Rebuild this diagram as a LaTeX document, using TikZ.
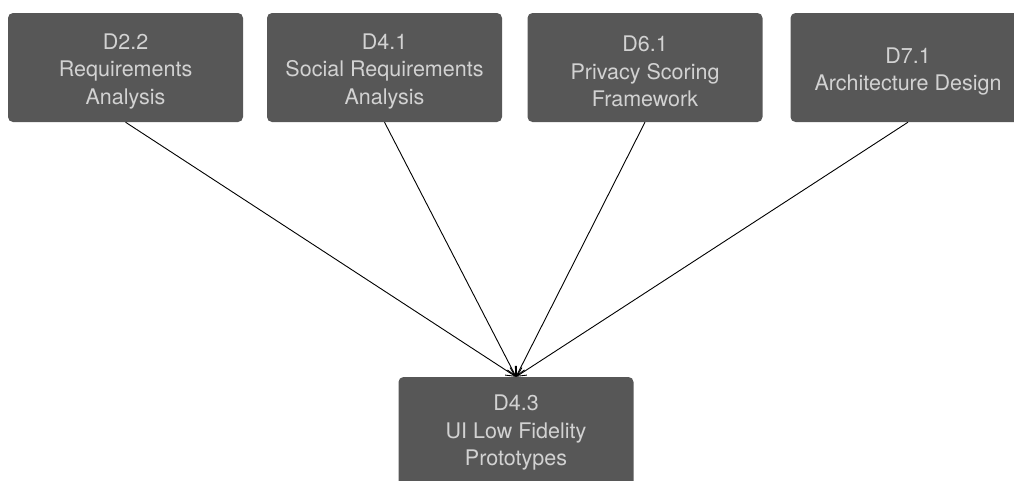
\documentclass[tikz,border=0pt]{standalone}
\usepackage{fontspec}
\setmainfont{TeX Gyre Heros}
\usetikzlibrary{arrows.meta}
\definecolor{boxgray}{HTML}{575757}
\definecolor{boxtext}{HTML}{D2D2D2}
\begin{document}
\begin{tikzpicture}[x=1pt,y=-1pt,
  deliv/.style={rectangle, rounded corners=5pt, fill=boxgray,
    minimum width=235pt, minimum height=109pt, inner sep=0pt},
  dtext/.style={text=boxtext, inner sep=0pt, align=center,
    font=\fontsize{21.5}{27.3}\selectfont},
  feed/.style={line width=0.9pt, -{Straight Barb[length=9pt,width=9pt,line width=0.9pt]}}]
  \clip (0,0) rectangle (1014,480);
  \useasboundingbox (0,0) rectangle (1014,480);

  % source deliverables
  \node[deliv] (d22) at (125.5,67.5) {};
  \node[deliv] (d41) at (384.5,67.5) {};
  \node[deliv] (d61) at (645,67.5) {};
  \node[deliv] (d71) at (908,67.5) {};
  \node[dtext] (t22) at ([yshift=-4pt]d22.center) {D2.2\\Requirements\\Analysis};
  \node[dtext] (t41) at ([yshift=-4pt]d41.center) {D4.1\\Social Requirements\\Analysis};
  \node[dtext] (t61) at ([yshift=-4pt]d61.center) {D6.1\\Privacy Scoring\\Framework};
  \node[dtext] (t71) at ([yshift=-4pt]d71.center) {D7.1\\Architecture Design};

  % target deliverable
  \node[deliv] (d43) at (516,431.5) {};
  \node[dtext] (t43) at ([yshift=-1pt]d43.center) {D4.3\\UI Low Fidelity\\Prototypes};

  % dependencies
  \foreach \src in {d22,d41,d61,d71}
    \draw[feed] (\src.south) -- (d43.north);
\end{tikzpicture}
\end{document}
